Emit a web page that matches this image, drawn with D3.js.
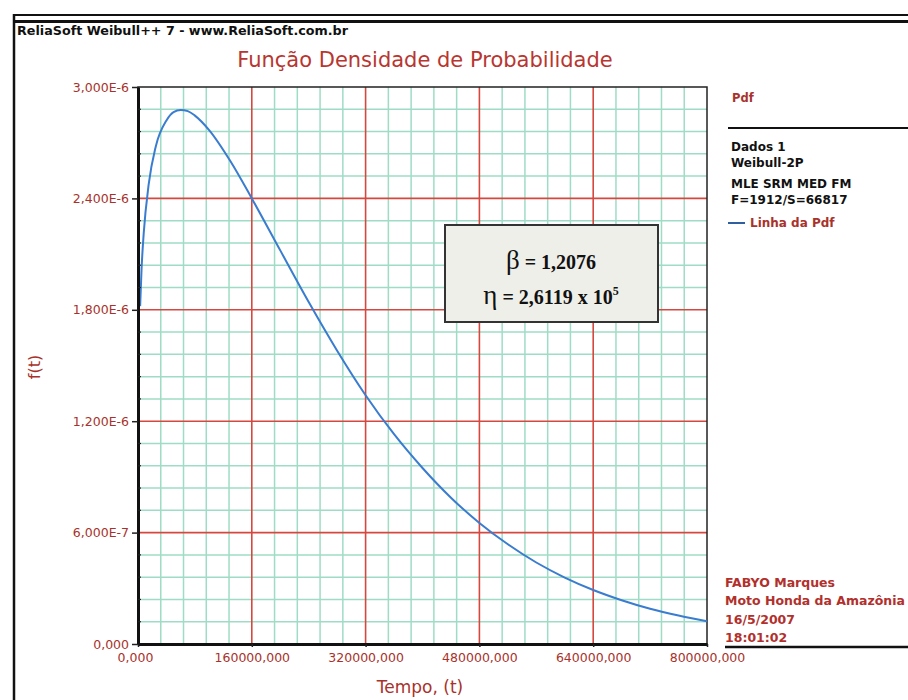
<!DOCTYPE html>
<html>
<head>
<meta charset="utf-8">
<script src="https://cdn.jsdelivr.net/npm/d3@7"></script>
<style>
  body { margin: 0; background: #fff; }
  svg { display: block; }
  .tick text { font-family: "DejaVu Sans", sans-serif; }
</style>
</head>
<body>
<div id="chart"></div>
<script>
// data (Weibull pdf curve)
const tempo = [3000, 5000, 8000, 15000, 25000, 40000, 50000, 60000, 70000, 80000, 100000, 130000,
  160000, 200000, 240000, 280000, 320000, 360000, 400000, 440000, 480000, 520000, 560000,
  600000, 640000, 680000, 720000, 760000, 800000];
const pdfValues = [1.82e-6, 2.02e-6, 2.21e-6, 2.475e-6, 2.68e-6, 2.82e-6, 2.865e-6, 2.876e-6, 2.87e-6,
  2.846e-6, 2.768e-6, 2.60e-6, 2.40e-6, 2.12e-6, 1.842e-6, 1.58e-6, 1.34e-6, 1.13e-6, 9.48e-7,
  7.88e-7, 6.52e-7, 5.37e-7, 4.39e-7, 3.58e-7, 2.91e-7, 2.36e-7, 1.90e-7, 1.53e-7, 1.22e-7];

const xTicks = [0, 160000, 320000, 480000, 640000, 800000];
const xTickLabels = ["0,000", "160000,000", "320000,000", "480000,000", "640000,000", "800000,000"];
const yTicks = [0, 6e-7, 1.2e-6, 1.8e-6, 2.4e-6, 3e-6];
const yTickLabels = ["0,000", "6,000E-7", "1,200E-6", "1,800E-6", "2,400E-6", "3,000E-6"];
const minorPerMajor = 5;

const legendInfo = ["Dados 1", "Weibull-2P", "MLE SRM MED FM", "F=1912/S=66817"];
const footerInfo = ["FABYO Marques", "Moto Honda da Amazônia", "16/5/2007", "18:01:02"];

const W = 908, H = 700;
const darkRed = "#a8322b";

const svg = d3.select("#chart").append("svg")
  .attr("width", W)
  .attr("height", H);

// page frame
svg.append("line").attr("x1", 14).attr("x2", 14).attr("y1", 14).attr("y2", H)
  .attr("stroke", "#111").attr("stroke-width", 2.5);
svg.append("line").attr("x1", 14).attr("x2", W).attr("y1", 15).attr("y2", 15)
  .attr("stroke", "#111").attr("stroke-width", 2);
svg.append("line").attr("x1", 14).attr("x2", W).attr("y1", 21.5).attr("y2", 21.5)
  .attr("stroke", "#111").attr("stroke-width", 3);

svg.append("text")
  .attr("x", 17).attr("y", 35)
  .attr("font-family", "DejaVu Sans, sans-serif")
  .attr("font-size", 11.5)
  .attr("font-weight", "bold")
  .attr("fill", "#111")
  .attr("textLength", 331)
  .attr("lengthAdjust", "spacingAndGlyphs")
  .text("ReliaSoft Weibull++ 7 - www.ReliaSoft.com.br");

svg.append("text")
  .attr("x", 425).attr("y", 67)
  .attr("text-anchor", "middle")
  .attr("font-family", "DejaVu Sans, sans-serif")
  .attr("font-size", 21)
  .attr("fill", "#b8362f")
  .text("Função Densidade de Probabilidade");

// scales
const x = d3.scaleLinear().domain([0, 800000]).range([138, 707]);
const y = d3.scaleLinear().domain([0, 3e-6]).range([644, 87]);

// minor grid
const xStep = (xTicks[1] - xTicks[0]) / minorPerMajor;
const yStep = (yTicks[1] - yTicks[0]) / minorPerMajor;
const xMinor = d3.range(0, 800000 + 1, xStep).filter((d, i) => i % minorPerMajor !== 0);
const yMinor = d3.range(1, 25).map(i => i * yStep).filter((d, i) => (i + 1) % minorPerMajor !== 0);

const grid = svg.append("g");
grid.selectAll("line.vminor").data(xMinor).enter().append("line")
  .attr("x1", d => x(d)).attr("x2", d => x(d))
  .attr("y1", y.range()[1]).attr("y2", y.range()[0])
  .attr("stroke", "#9fdcc6").attr("stroke-width", 1.5);
grid.selectAll("line.hminor").data(yMinor).enter().append("line")
  .attr("x1", x.range()[0]).attr("x2", x.range()[1])
  .attr("y1", d => y(d)).attr("y2", d => y(d))
  .attr("stroke", "#9fdcc6").attr("stroke-width", 1.5);

// major grid
grid.selectAll("line.vmajor").data(xTicks.slice(1, -1)).enter().append("line")
  .attr("x1", d => x(d)).attr("x2", d => x(d))
  .attr("y1", y.range()[1]).attr("y2", y.range()[0])
  .attr("stroke", "#d6483f").attr("stroke-width", 1.6);
grid.selectAll("line.hmajor").data(yTicks.slice(1, -1)).enter().append("line")
  .attr("x1", x.range()[0]).attr("x2", x.range()[1])
  .attr("y1", d => y(d)).attr("y2", d => y(d))
  .attr("stroke", "#d6483f").attr("stroke-width", 1.6);

// plot border
svg.append("rect")
  .attr("x", x.range()[0]).attr("y", y.range()[1])
  .attr("width", x.range()[1] - x.range()[0])
  .attr("height", y.range()[0] - y.range()[1])
  .attr("fill", "none").attr("stroke", "#222").attr("stroke-width", 1.5);

// curve
const points = tempo.map((t, i) => [t, pdfValues[i]]);
const line = d3.line()
  .x(d => x(d[0]))
  .y(d => y(d[1]))
  .curve(d3.curveMonotoneX);

svg.append("path")
  .datum(points)
  .attr("fill", "none")
  .attr("stroke", "#3a7ccf")
  .attr("stroke-width", 2)
  .attr("d", line);

// axes
const xAxis = svg.append("g")
  .attr("transform", `translate(0,${y.range()[0]})`)
  .call(d3.axisBottom(x).tickValues(xTicks).tickFormat((d, i) => xTickLabels[i])
    .tickSize(3).tickSizeOuter(0).tickPadding(6));
const yAxis = svg.append("g")
  .attr("transform", `translate(${x.range()[0]},0)`)
  .call(d3.axisLeft(y).tickValues(yTicks).tickFormat((d, i) => yTickLabels[i])
    .tickSize(6).tickSizeOuter(0).tickPadding(3));

[xAxis, yAxis].forEach(a => {
  a.select(".domain").attr("stroke", "#111").attr("stroke-width", 3);
  a.selectAll(".tick line").attr("stroke", "#222").attr("stroke-width", 1.5);
  a.selectAll(".tick text").attr("fill", darkRed).attr("font-size", 12.5);
});
xAxis.select(".tick text").attr("dx", -3);

// minor ticks on the axes
yAxis.selectAll("line.mt").data(yMinor).enter().append("line")
  .attr("x1", 0).attr("x2", 3)
  .attr("y1", d => y(d)).attr("y2", d => y(d))
  .attr("stroke", "#222").attr("stroke-width", 1.2);

// axis titles
svg.append("text")
  .attr("x", 420).attr("y", 693)
  .attr("text-anchor", "middle")
  .attr("font-family", "DejaVu Sans, sans-serif")
  .attr("font-size", 17)
  .attr("fill", darkRed)
  .text("Tempo, (t)");

svg.append("text")
  .attr("transform", "translate(40,367) rotate(-90)")
  .attr("text-anchor", "middle")
  .attr("font-family", "DejaVu Sans, sans-serif")
  .attr("font-size", 16)
  .attr("fill", darkRed)
  .text("f(t)");

// parameter box
const box = svg.append("g");
box.append("rect")
  .attr("x", 445).attr("y", 225).attr("width", 213).attr("height", 97)
  .attr("fill", "#efefea").attr("stroke", "#333").attr("stroke-width", 2);
const beta = box.append("text")
  .attr("x", 551).attr("y", 269)
  .attr("text-anchor", "middle")
  .attr("font-family", "Liberation Serif, DejaVu Serif, serif")
  .attr("font-size", 20)
  .attr("font-weight", "bold")
  .attr("fill", "#111");
beta.append("tspan").attr("font-size", 27).attr("font-weight", "normal").text("β");
beta.append("tspan").text(" = 1,2076");
const eta = box.append("text")
  .attr("x", 551).attr("y", 304)
  .attr("text-anchor", "middle")
  .attr("font-family", "Liberation Serif, DejaVu Serif, serif")
  .attr("font-size", 20)
  .attr("font-weight", "bold")
  .attr("fill", "#111");
eta.append("tspan").attr("font-size", 27).attr("font-weight", "normal").text("η");
eta.append("tspan").text(" = 2,6119 x 10");
eta.append("tspan").attr("font-size", 12).attr("dy", -9).text("5");

// legend
const sideFont = "DejaVu Sans, sans-serif";
svg.append("text")
  .attr("x", 732).attr("y", 102)
  .attr("font-family", sideFont).attr("font-size", 11.5).attr("font-weight", "bold")
  .attr("fill", darkRed)
  .text("Pdf");
svg.append("line")
  .attr("x1", 728).attr("x2", W).attr("y1", 128).attr("y2", 128)
  .attr("stroke", "#111").attr("stroke-width", 2);

const legendY = [151, 167, 188, 204];
svg.selectAll("text.info").data(legendInfo).enter().append("text")
  .attr("x", 731).attr("y", (d, i) => legendY[i])
  .attr("font-family", sideFont).attr("font-size", 12).attr("font-weight", "bold")
  .attr("fill", "#111")
  .text(d => d);

svg.append("line")
  .attr("x1", 728).attr("x2", 745).attr("y1", 223).attr("y2", 223)
  .attr("stroke", "#2f5f9e").attr("stroke-width", 2);
svg.append("text")
  .attr("x", 750).attr("y", 227)
  .attr("font-family", sideFont).attr("font-size", 12).attr("font-weight", "bold")
  .attr("fill", darkRed)
  .text("Linha da Pdf");

// footer info
const footerY = [587, 605, 624, 642];
svg.selectAll("text.footer").data(footerInfo).enter().append("text")
  .attr("x", 725).attr("y", (d, i) => footerY[i])
  .attr("font-family", sideFont).attr("font-size", 12.5).attr("font-weight", "bold")
  .attr("fill", "#b2302c")
  .text(d => d);
svg.append("line")
  .attr("x1", 725).attr("x2", W).attr("y1", 647).attr("y2", 647)
  .attr("stroke", "#111").attr("stroke-width", 2.5);
</script>
</body>
</html>
